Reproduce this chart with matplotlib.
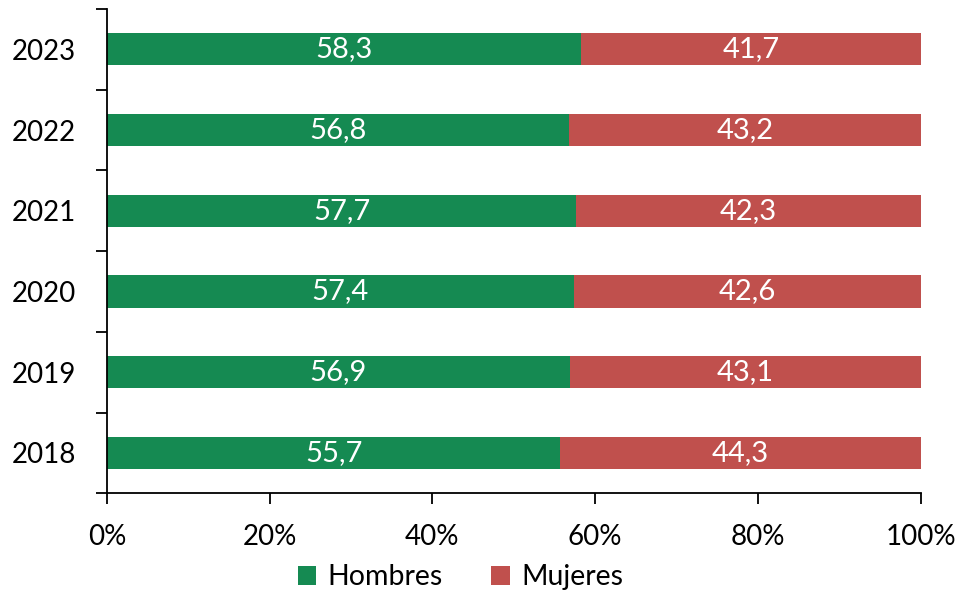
import matplotlib.pyplot as plt
import numpy as np

years = ["2018", "2019", "2020", "2021", "2022", "2023"]
hombres = [55.7, 56.9, 57.4, 57.7, 56.8, 58.3]
mujeres = [44.3, 43.1, 42.6, 42.3, 43.2, 41.7]
x_ticks = [0, 20, 40, 60, 80, 100]

green = "#158A52"
red = "#C0504D"

plt.rcParams['font.family'] = ['Lato', 'DejaVu Sans']

fig = plt.figure(figsize=(9.63, 5.95), dpi=100)
ax = fig.add_axes([0.111, 0.171, 0.845, 0.814])

y = np.arange(len(years))
b1 = ax.barh(y, hombres, height=0.4, color=green, label="Hombres")
b2 = ax.barh(y, mujeres, left=hombres, height=0.4, color=red, label="Mujeres")

for bars, vals in ((b1, hombres), (b2, mujeres)):
    labels = [f"{v:.1f}".replace(".", ",") for v in vals]
    ax.bar_label(bars, labels=labels, label_type="center", color="white", fontsize=21)

ax.set_xlim(0, 100)
ax.set_ylim(-0.5, len(years) - 0.5)
ax.set_xticks(x_ticks)
ax.set_xticklabels([f"{t}%" for t in x_ticks], fontsize=20)
ax.set_yticks(y)
ax.set_yticklabels(years, fontsize=20)
ax.set_yticks(np.arange(-0.5, len(years)), minor=True)
ax.tick_params(axis="y", which="major", length=0, pad=22)
ax.tick_params(axis="y", which="minor", length=8, width=1.3, direction="out")
ax.tick_params(axis="x", length=8, width=1.3, direction="out", pad=14)

for s in ["top", "right"]:
    ax.spines[s].set_visible(False)
for s in ["left", "bottom"]:
    ax.spines[s].set_linewidth(1.3)

fig.legend(handles=[b1, b2], loc="lower center", ncol=2, frameon=False,
           fontsize=20.5, handlelength=0.65, handleheight=0.65, handletextpad=0.4,
           columnspacing=1.7, bbox_to_anchor=(0.478, -0.035))

fig.savefig("out.png", dpi=100)
